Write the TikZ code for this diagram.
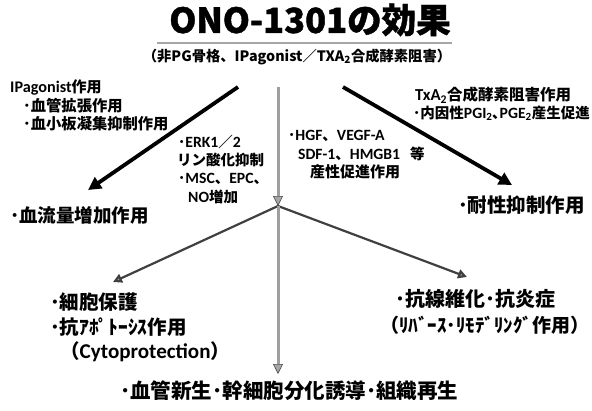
\documentclass[tikz,border=0pt]{standalone}
\usepackage{fontspec}
\setmainfont{Noto Sans CJK JP}
\newfontfamily\titlefont{Noto Sans CJK JP}[BoldFeatures={FakeBold=1.2}]
\newfontfamily\lat{Carlito}[Scale=1.08]
\usetikzlibrary{arrows.meta}
\newcommand{\mysub}[1]{\textsubscript{#1}}
\newcommand{\la}[1]{{\lat\bfseries #1}}
\begin{document}
\begin{tikzpicture}[x=1pt,y=-1pt,
  lbl/.style={anchor=west,inner sep=0pt,font=\bfseries\fontsize{#1}{#1}\selectfont},
  lbl/.default=13,
  blk/.style={line width=3.8pt,-{Triangle[length=13pt,width=13pt]}},
  gry/.style={draw=black!75,line width=2.2pt,-{Triangle[length=9pt,width=9pt,fill=gray!70]}},
  mid/.style={draw=gray!75,line width=3pt,-{Triangle[length=10pt,width=10pt,fill=gray!70,color=black!70,line width=0.6pt]}}]
\useasboundingbox (0,0) rectangle (592,410);
% title
\node[inner sep=0pt,font=\titlefont\bfseries\fontsize{34.5}{34.5}\selectfont] (title) at (310,20) {ONO-1301の効果};
\draw[gray!70,line width=1.5pt] (157,43) -- (452,43);
\node[inner sep=0pt,font=\bfseries\fontsize{14.3}{14.3}\selectfont] (sub) at (297,57) {（非PG骨格、IPagonist／TXA\mysub{2}合成酵素阻害）};
% coordinates
\coordinate (lstart) at (238,87);
\coordinate (ltip) at (88,190);
\coordinate (cstart) at (278,87);
\coordinate (branch) at (278,206);
\coordinate (rstart) at (343,87);
\coordinate (rtip) at (512,185);
\coordinate (bltip) at (113,282);
\coordinate (brtip) at (467,277);
\coordinate (btip) at (278,374);
% arrows
\draw[blk] (lstart) -- (ltip);
\draw[blk] (rstart) -- (rtip);
\draw[mid] (cstart) -- (branch);
\draw[gry] (branch) -- (bltip);
\draw[gry] (branch) -- (brtip);
\draw[mid] (branch) -- (btip);
% left top texts
\node[lbl=15] (ip) at (10,87) {\la{IPagonist}作用};
\node[lbl=15.3] (ip1) at (23,106) {･血管拡張作用};
\node[lbl=15.3] (ip2) at (23,124) {･血小板凝集抑制作用};
% right top texts
\node[lbl=15.5] (tx) at (415,95) {\la{TxA\mysub{2}}合成酵素阻害作用};
\node[lbl=14.5] (tx1) at (413,113) {･内因性\la{PGI\mysub{2}}､\la{PGE\mysub{2}}産生促進};
% middle left
\node[lbl=14.5] (erk) at (178,142) {･\la{ERK1}／\la{2}};
\node[lbl=14.5] (erk2) at (177,160) {リン酸化抑制};
\node[lbl=14.5] (msc) at (178,179) {･\la{MSC}、\la{EPC}、};
\node[lbl=14.5] (no) at (188,197) {\la{NO}増加};
% middle right
\node[lbl=14.5] (hgf) at (288,136) {･\la{HGF}、\la{VEGF-A}};
\node[lbl=14.5] (sdf) at (298,154) {\la{SDF-1}、\la{HMGB1}\hspace{10pt}等};
\node[lbl=15] (prod) at (310,172) {産性促進作用};
% effects
\node[lbl=18.5] (flow) at (10,215) {･血流量増加作用};
\node[lbl=19.5] (tol) at (458,205) {･耐性抑制作用};
\node[lbl=19.5] (cp1) at (50,302) {･細胞保護};
\node[lbl=19.5] (cp2) at (50,327) {･抗ｱﾎﾟﾄｰｼｽ作用};
\node[lbl=19.5] (cp3) at (60,352) {（\la{Cytoprotection}）};
\node[lbl=20] (af1) at (395,299) {･抗線維化･抗炎症};
\node[lbl=19] (af2) at (380,325) {（ﾘﾊﾞｰｽ･ﾘﾓﾃﾞﾘﾝｸﾞ作用）};
\node[lbl=20.5] (bot) at (120,391) {･血管新生･幹細胞分化誘導･組織再生};
\end{tikzpicture}
\end{document}
